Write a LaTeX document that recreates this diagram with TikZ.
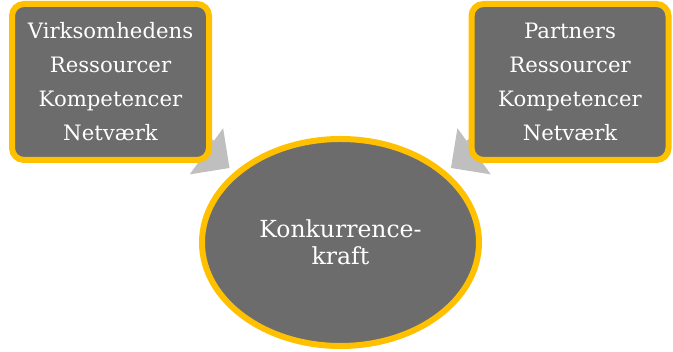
\documentclass[tikz,border=0pt]{standalone}
\usepackage{fontspec}
\setmainfont{DejaVu Serif}
\usepackage{tikz}
\usetikzlibrary{arrows.meta,positioning,shapes.geometric,backgrounds}
\definecolor{boxgray}{RGB}{108,108,108}
\definecolor{rimgold}{RGB}{255,192,0}
\definecolor{arrowgray}{RGB}{191,191,191}

\begin{document}
\begin{tikzpicture}[x=1pt,y=1pt,
  box/.style={draw=rimgold,fill=boxgray,line width=6pt,rounded corners=12pt,
    minimum width=197pt,minimum height=156pt,text=white,align=center,
    font=\fontsize{21.2}{34}\selectfont},
  core/.style={ellipse,draw=rimgold,fill=boxgray,line width=6pt,
    minimum width=277pt,minimum height=207pt,inner sep=0pt,text=white,
    align=center,font=\fontsize{23.5}{27}\selectfont},
  feed/.style={color=arrowgray,line width=26pt,
    -{Triangle[length=28.5pt,width=57pt,line width=0pt,fill=arrowgray]}}]
\useasboundingbox (0,0) rectangle (673,352);
\node[box] (V) at (110.5,270) {Virksomhedens\\Ressourcer\\Kompetencer\\Netværk};
\node[box] (P) at (570,270) {Partners\\Ressourcer\\Kompetencer\\Netværk};
\node[core] (K) at (340.5,109.5) {Konkurrence-\\kraft};
% arrow tips, just short of the ellipse
\coordinate (Vt) at (229.5,184);
\coordinate (Pt) at (451,184);
\begin{scope}[on background layer]
\path[feed]
(V.center) edge (Vt)
(P.center) edge (Pt);
\end{scope}
\end{tikzpicture}
\end{document}
